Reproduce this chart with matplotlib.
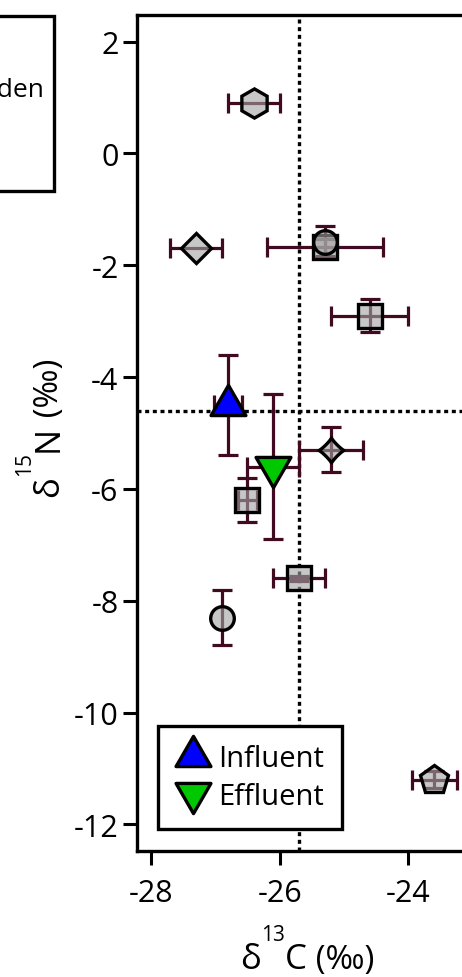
import matplotlib

matplotlib.use("Agg")
import matplotlib.pyplot as plt
import numpy as np
from matplotlib.lines import Line2D
from matplotlib.markers import MarkerStyle
from matplotlib.patches import Rectangle
from matplotlib.path import Path
from matplotlib.transforms import IdentityTransform

plt.rcParams["font.family"] = ["Open Sans", "DejaVu Sans"]
plt.rcParams["axes.unicode_minus"] = False

# Sampling sites: isotope means and standard deviations (per mil)
site_shape = ["hexagon", "diamond", "square", "circle", "square", "star",
              "square", "square", "circle", "pentagon"]
site_d13c = [-26.4, -27.3, -25.3, -25.3, -24.6, -25.2, -26.5, -25.7, -26.9, -23.6]
site_d15n = [0.9, -1.7, -1.68, -1.58, -2.9, -5.3, -6.2, -7.6, -8.3, -11.2]
site_sd13c = [0.4, 0.4, 0.9, 0.0, 0.6, 0.5, 0.15, 0.4, 0.0, 0.35]
site_sd15n = [0.0, 0.0, 0.15, 0.28, 0.3, 0.4, 0.4, 0.05, 0.5, 0.15]

# Treatment plant inflow / outflow
flow_labels = ["Influent", "Effluent"]
flow_colors = ["#0000ff", "#00c800"]
flow_d13c = [-26.8, -26.1]
flow_d15n = [-4.5, -5.6]
flow_sd13c = [0.22, 0.4]
flow_sd15n = [0.9, 1.3]

# reference lines
ref_d13c = -25.7
ref_d15n = -4.6

ERR = "#400a20"
FACE = (0.64, 0.64, 0.64, 0.6)
W, H = 462, 978


def _triangle(up=True):
    # equilateral, centred on its centroid
    s = 1 if up else -1
    verts = [(-1, -0.577 * s), (1, -0.577 * s), (0, 1.155 * s), (-1, -0.577 * s)]
    codes = [Path.MOVETO, Path.LINETO, Path.LINETO, Path.CLOSEPOLY]
    return MarkerStyle(Path(verts, codes), joinstyle="miter")


def _star():
    t = np.linspace(0, 2 * np.pi, 81)
    c, s = np.cos(t), np.sin(t)
    p = 2.3
    verts = np.column_stack([np.sign(c) * np.abs(c) ** p, np.sign(s) * np.abs(s) ** p])
    return MarkerStyle(Path(verts, closed=True), joinstyle="miter")


MARKERS = {
    "hexagon": (MarkerStyle("h", joinstyle="miter"), 21),
    "diamond": (MarkerStyle("D", joinstyle="miter"), 15.5),
    "square": (MarkerStyle("s", joinstyle="miter"), 17.5),
    "circle": (MarkerStyle("o"), 17),
    "pentagon": (MarkerStyle("p", joinstyle="miter"), 21),
    "star": (_star(), 18),
}


def _label_run(fig, x, y, parts, vertical=False):
    """Draw text pieces one after another (pixel coords, baseline anchored)."""
    r = fig.canvas.get_renderer()
    for text, size, rise in parts:
        if vertical:
            t = fig.text(x - rise, y, text, fontsize=size, rotation=90,
                         rotation_mode="anchor", ha="left", va="baseline",
                         transform=IdentityTransform())
            y += t.get_window_extent(r).height
        else:
            t = fig.text(x, y + rise, text, fontsize=size, ha="left",
                         va="baseline", transform=IdentityTransform())
            x += t.get_window_extent(r).width


fig = plt.figure(figsize=(W / 100, H / 100), dpi=100)
ax = fig.add_axes([137.3 / W, (H - 851.7) / H, 400 / W, 836 / H])

ax.axvline(ref_d13c, color="black", lw=2.4, ls=(0, (1.2, 1.1)), zorder=1)
ax.axhline(ref_d15n, color="black", lw=2.4, ls=(0, (1.2, 1.1)), zorder=1)

err_kw = dict(fmt="none", ecolor=ERR, elinewidth=2.3, capsize=7, capthick=2.3)

for shape, x, y, sx, sy in zip(site_shape, site_d13c, site_d15n, site_sd13c, site_sd15n):
    ax.errorbar(x, y, xerr=sx if sx else None, yerr=sy if sy else None,
                zorder=2, **err_kw)
    m, ms = MARKERS[shape]
    ax.plot(x, y, ls="none", marker=m, ms=ms, mfc=FACE, mec="black",
            mew=2.4, zorder=3)

handles = []
for lab, col, x, y, sx, sy, up in zip(flow_labels, flow_colors, flow_d13c, flow_d15n,
                                      flow_sd13c, flow_sd15n, [True, False]):
    ax.errorbar(x, y, xerr=sx, yerr=sy, zorder=2, **err_kw)
    ax.plot(x, y, ls="none", marker=_triangle(up), ms=29, mfc=col, mec="black",
            mew=2.4, zorder=4)
    handles.append(Line2D([], [], ls="none", marker=_triangle(up), ms=29, mfc=col,
                          mec="black", mew=2.4, label=lab))

ax.set_xlim(-28.21, -22.0)
ax.set_ylim(-12.47, 2.48)
ax.set_xticks([-28, -26, -24])
ax.set_yticks(np.arange(-12, 3, 2))
ax.spines["right"].set_visible(False)
for side in ["left", "bottom", "top"]:
    ax.spines[side].set_linewidth(2.4)
ax.tick_params(axis="both", direction="out", length=10, width=2.2, labelsize=22)
ax.tick_params(axis="x", pad=10)
ax.tick_params(axis="y", pad=3.5)

leg = ax.legend(handles=handles, loc="upper left",
                bbox_to_anchor=(158.3 / W, (H - 726.7) / H),
                bbox_transform=fig.transFigure, borderaxespad=0,
                fontsize=21, frameon=True, fancybox=False, framealpha=1,
                edgecolor="black", borderpad=0.62, handlelength=1.15,
                handletextpad=0.28, labelspacing=0.3)
leg.get_frame().set_linewidth(2.4)
leg.set_zorder(6)

# neighbouring panel's legend box (cut at the left edge)
fig.add_artist(Rectangle((-60 / W, (H - 191.7) / H), 114 / W, 175 / H,
                         transform=fig.transFigure, fill=False, lw=2.4,
                         edgecolor="black", clip_on=False))
fig.text(44 / W, (H - 96.7) / H, "Garden", fontsize=19, ha="right", va="baseline")

_label_run(fig, 240, 9, [("δ", 25, 0), ("13", 15, 28), ("C", 25, 0), (" (‰)", 24, 0)])
_label_run(fig, 58, H - 497, [("δ", 25, 0), ("15", 15, 28), ("N", 25, 0), (" (‰)", 24, 0)],
           vertical=True)

fig.savefig("out.png", dpi=100)
